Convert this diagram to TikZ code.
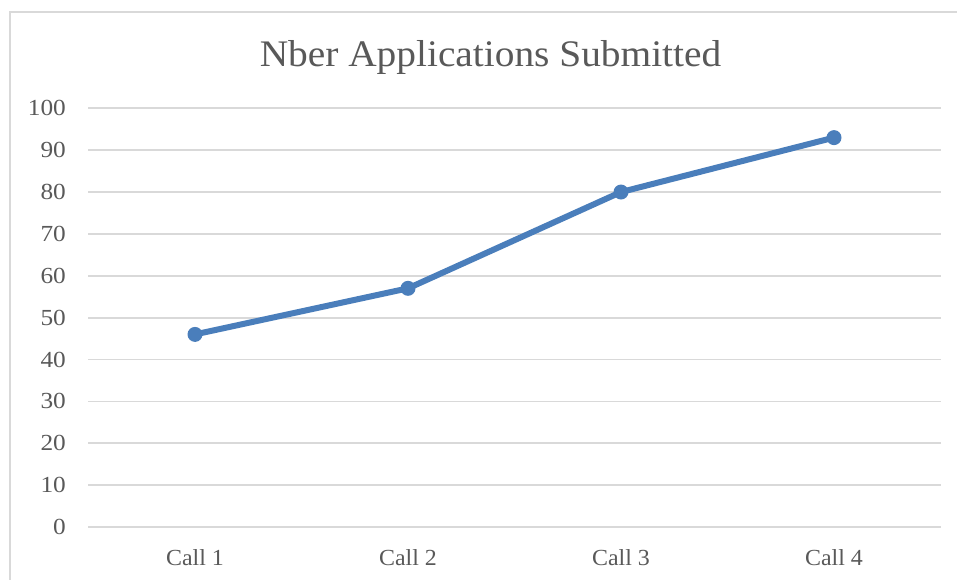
\documentclass[tikz,border=0pt]{standalone}
\usepackage{fontspec}
\usepackage{graphicx}
\setmainfont{Liberation Serif}
\definecolor{txtgray}{HTML}{595959}
\definecolor{gridgray}{HTML}{D9D9D9}
\definecolor{seriesblue}{HTML}{4A7EBB}
% slightly widened serif lettering
\newcommand{\widetext}[2]{\scalebox{#1}[1]{#2}}
\tikzset{
  gridline/.style={draw=gridgray, line width=1.7pt},
  frameline/.style={draw=gridgray, line width=1.4pt},
  ylabel/.style={anchor=east, text=txtgray, font=\fontsize{23}{23}\selectfont, inner sep=0pt},
  xlabel/.style={anchor=base, text=txtgray, font=\fontsize{23}{23}\selectfont, inner sep=0pt},
  series/.style={draw=seriesblue, line width=6pt, line join=round, line cap=round},
  datapoint/.style={circle, fill=seriesblue, minimum size=15pt, inner sep=0pt},
}
\begin{document}
\begin{tikzpicture}[x=1pt, y=-1pt]
  \useasboundingbox (0,0) rectangle (957,580);
  \fill[white] (0,0) rectangle (957,580);
  % chart frame (top and left edges)
  \draw[frameline] (10,590) -- (10,12) -- (970,12);
  % title
  \node[anchor=base, text=txtgray, font=\fontsize{37.5}{37.5}\selectfont, inner sep=0pt] (title) at (490.5,67) {\widetext{1.05}{Nber Applications Submitted}};
  % horizontal grid and value axis labels
  \foreach \v in {0,10,...,100} {
    \pgfmathsetmacro{\yy}{527-4.187*\v}
    \draw[gridline] (88,\yy) -- (941,\yy);
    \node[ylabel] (y\v) at (66,\yy) {\widetext{1.1}{\v}};
  }
  % category labels
  \foreach \i/\xx in {1/195,2/408,3/621,4/834} {
    \node[xlabel] (c\i) at (\xx,565.5) {\widetext{1.04}{Call \i}};
  }
  % data points
  \node[datapoint] (p1) at (195,{527-4.187*46}) {};
  \node[datapoint] (p2) at (408,{527-4.187*57}) {};
  \node[datapoint] (p3) at (621,{527-4.187*80}) {};
  \node[datapoint] (p4) at (834,{527-4.187*93}) {};
  \draw[series] (p1.center) -- (p2.center) -- (p3.center) -- (p4.center);
\end{tikzpicture}
\end{document}
